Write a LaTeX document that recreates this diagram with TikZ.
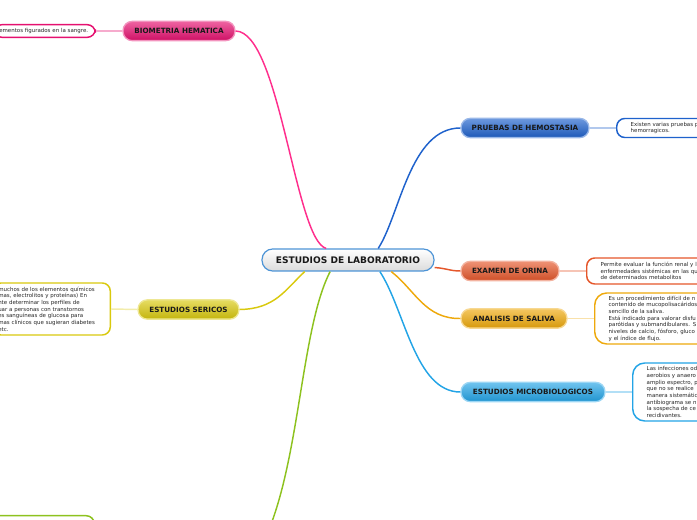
\documentclass[tikz,border=0pt]{standalone}
\usepackage{fontspec}
\setmainfont{DejaVu Sans}

\definecolor{bioPink}{HTML}{E5106F}
\definecolor{bioLine}{HTML}{FF2E8C}
\definecolor{hemoBlue}{HTML}{1F62CC}
\definecolor{orinaRed}{HTML}{E5572B}
\definecolor{salivaGold}{HTML}{EEA90C}
\definecolor{microBlue}{HTML}{23A4E6}
\definecolor{sericosYellow}{HTML}{D9C90E}
\definecolor{greenLine}{HTML}{8DC21F}
\definecolor{centreBlue}{HTML}{4D94D6}

\tikzset{every picture/.style={line width=0.75pt}}
\tikzset{
  centre/.style={rounded corners=8pt, draw=centreBlue, line width=0.9pt, top color=white, bottom color=black!14,
    minimum width=129pt, minimum height=16.5pt, inner sep=0pt, text=black!90,
    font=\fontsize{6.8}{8}\selectfont\bfseries},
  topic/.style={rounded corners=7pt, draw=#1!45!white, line width=1pt, top color=#1!65!white, bottom color=#1!90!black,
    minimum height=14.5pt, inner sep=0pt, text=black!90, font=\fontsize{5.4}{6}\selectfont\bfseries},
  note/.style={draw=#1, line width=1.1pt, fill=white, rounded corners=6pt, align=left, text=black!85,
    inner ysep=2pt, font=\fontsize{4.1}{5}\selectfont},
  rightnote/.style={note=#1, anchor=west, text width=120pt, inner xsep=10.5pt},
  leftnote/.style={note=#1, anchor=east, inner xsep=4pt},
  conn/.style={draw=#1, line width=1.1pt},
  link/.style={draw=#1!35!white, line width=1.1pt}
}

\begin{document}
\begin{tikzpicture}[x=0.75pt,y=0.75pt,yscale=-1,xscale=1]
\useasboundingbox (0,0) rectangle (697,520);
\clip (0,0) rectangle (697,520);

%Central topic
\node [centre] (lab) at (348,260) {ESTUDIOS DE LABORATORIO};

%Main topics
\node [topic=bioPink, minimum width=84pt] (bio) at (179,31) {BIOMETRIA HEMATICA};
\node [topic=hemoBlue, minimum width=96pt] (hemo) at (525,128) {PRUEBAS DE HEMOSTASIA};
\node [topic=orinaRed, minimum width=73.5pt] (orina) at (510,271) {EXAMEN DE ORINA};
\node [topic=salivaGold, minimum width=79.5pt] (saliva) at (514,318.5) {ANALISIS DE SALIVA};
\node [topic=microBlue, minimum width=108pt] (micro) at (533,392) {ESTUDIOS MICROBIOLOGICOS};
\node [topic=sericosYellow, minimum width=75.75pt] (sericos) at (188.5,309.5) {ESTUDIOS SERICOS};

%Notes
\node [leftnote=bioPink, text width=68pt, minimum height=9.5pt] (bionote) at (96,31) {ementos figurados en la sangre.};
\node [leftnote=sericosYellow, text width=80pt, minimum height=39pt] (sericosnote) at (111,309) {muchos de los elementos químicos\\mas, electrolitos y proteínas) En\\nte determinar los perfiles de\\uar a personas con transtornos\\es sanguíneas de glucosa para\\mas clínicos que sugieran diabetes\\etc.};
\node [rightnote=hemoBlue, minimum height=14.25pt] (hemonote) at (616,128) {Existen varias pruebas p\\hemorragicos.};
\node [rightnote=orinaRed, minimum height=19.5pt] (orinanote) at (586,271) {Permite evaluar la función renal y l\\enfermedades sistémicas en las qu\\de determinados metabolitos};
\node [rightnote=salivaGold, minimum height=38.25pt, rounded corners=9pt] (salivanote) at (594,318.5) {Es un procedimiento difícil de n\\contenido de mucopolisacáridos\\sencillo de la saliva.\\Está indicado para valorar disfu\\parótidas y submandibulares. S\\niveles de calcio, fósforo, gluco\\y el índice de flujo.};
\node [rightnote=microBlue, minimum height=43.5pt, rounded corners=9pt] (micronote) at (632,392) {Las infecciones od\\aerobios y anaero\\amplio espectro, p\\que no se realice\\manera sistemátic\\antibiograma se n\\la sospecha de ce\\recidivantes.};
\node [note=greenLine, anchor=north east, minimum width=140pt, minimum height=30pt] (greennote) at (95,515) {};

%Curve Lines
\coordinate (greentopic) at (262,545);
\draw [conn=bioLine] (lab.152) .. controls (295,240) and (280,32) .. (bio.east);
\draw [conn=hemoBlue] (lab.21) .. controls (400,215) and (410,128) .. (hemo.west);
\draw [conn=orinaRed] (lab.-5) .. controls (445,268) and (450,271) .. (orina.west);
\draw [conn=salivaGold] (lab.-15) .. controls (415,290) and (425,319) .. (saliva.west);
\draw [conn=microBlue] (lab.-20) .. controls (405,310) and (415,392) .. (micro.west);
\draw [conn=sericosYellow] (lab.195) .. controls (285,290) and (275,309) .. (sericos.east);
\draw [conn=greenLine] (lab.213) .. controls (300,330) and (300,470) .. (greentopic);

%Straight Lines
\draw [link=bioPink] (bio.west) -- (bionote.east);
\draw [link=sericosYellow] (sericos.west) -- (sericosnote.east);
\draw [link=hemoBlue] (hemo.east) -- (hemonote.west);
\draw [link=orinaRed] (orina.east) -- (orinanote.west);
\draw [link=salivaGold] (saliva.east) -- (salivanote.west);
\draw [link=microBlue] (micro.east) -- (micronote.west);

\end{tikzpicture}
\end{document}
